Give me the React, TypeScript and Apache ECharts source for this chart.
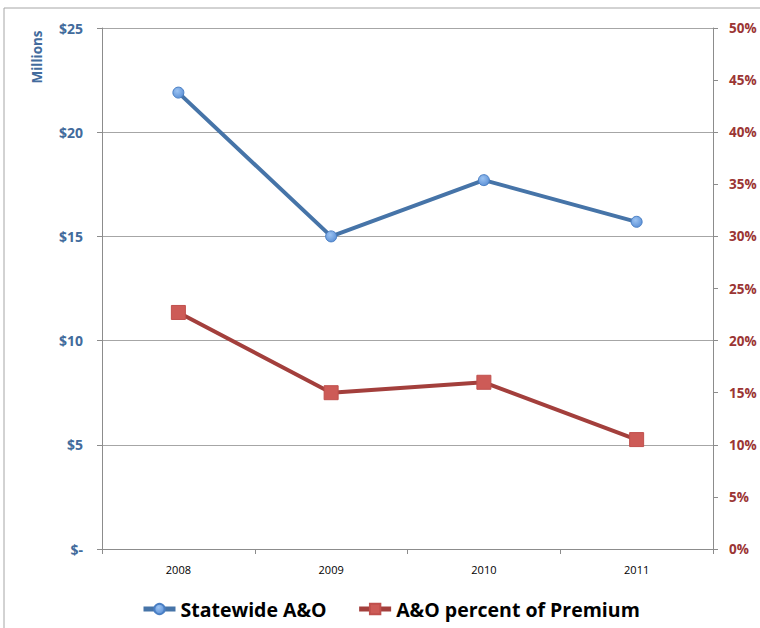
import React, { useEffect, useRef } from "react";
import * as echarts from "echarts";

const categories = ["2008", "2009", "2010", "2011"];
const statewideAO = [21.9, 15.0, 17.7, 15.7];
const percentOfPremium = [22.7, 15.0, 16.0, 10.5];

export default function App() {
  const ref = useRef<HTMLDivElement>(null);
  useEffect(() => {
    document.body.style.margin = "0";
    const chart = echarts.init(ref.current!, null, { renderer: "svg" });
    const font = "'Open Sans', 'Noto Sans', sans-serif";
    chart.setOption({
      animation: false,
      backgroundColor: "#ffffff",
      textStyle: { fontFamily: font },
      grid: { left: 102, right: 47, top: 28, bottom: 79, containLabel: false },
      graphic: [
        {
          type: "rect",
          shape: { x: 4, y: 8, width: 800, height: 700 },
          style: { fill: "none", stroke: "#a6a6a6", lineWidth: 1 },
          silent: true,
        },
        {
          type: "text",
          x: 37,
          y: 57,
          rotation: Math.PI / 2,
          style: {
            text: "Millions",
            fill: "#426b9c",
            font: `bold 13.5px ${font}`,
            textAlign: "center",
            textVerticalAlign: "middle",
          },
        },
      ],
      legend: {
        bottom: 4,
        left: 136,
        itemWidth: 32,
        itemHeight: 13,
        itemGap: 30,
        lineStyle: { width: 5 },
        textStyle: { fontSize: 19.5, fontWeight: "bold", color: "#000", fontFamily: font },
        data: ["Statewide A&O", "A&O percent of Premium"],
      },
      xAxis: {
        type: "category",
        data: categories,
        boundaryGap: true,
        axisLine: { lineStyle: { color: "#8c8c8c" } },
        axisTick: { show: true, length: 5, lineStyle: { color: "#8c8c8c" } },
        axisLabel: { color: "#000", fontSize: 11, margin: 15, fontFamily: font },
      },
      yAxis: [
        {
          type: "value",
          min: 0,
          max: 25,
          interval: 5,
          axisLine: { show: true, lineStyle: { color: "#8c8c8c" } },
          axisTick: { show: true, length: 5, lineStyle: { color: "#8c8c8c" } },
          splitLine: { show: true, lineStyle: { color: "#a6a6a6" } },
          axisLabel: {
            color: "#426b9c",
            fontWeight: "bold",
            fontSize: 14,
            margin: 19,
            fontFamily: font,
            formatter: (v: number) => (v === 0 ? "$-" : "$" + v),
          },
        },
        {
          type: "value",
          min: 0,
          max: 50,
          interval: 5,
          position: "right",
          axisLine: { show: true, lineStyle: { color: "#8c8c8c" } },
          axisTick: { show: true, length: 5, lineStyle: { color: "#8c8c8c" } },
          splitLine: { show: false },
          axisLabel: {
            color: "#9b3534",
            fontWeight: "bold",
            fontSize: 13.5,
            margin: 16,
            fontFamily: font,
            formatter: (v: number) => v + "%",
          },
        },
      ],
      series: [
        {
          name: "Statewide A&O",
          type: "line",
          yAxisIndex: 0,
          data: statewideAO,
          symbol: "circle",
          symbolSize: 11,
          lineStyle: { color: "#4674a8", width: 4 },
          itemStyle: {
            color: new echarts.graphic.RadialGradient(0.4, 0.35, 0.7, [
              { offset: 0, color: "#9cc3f2" },
              { offset: 1, color: "#5b90d6" },
            ]),
            borderColor: "#4a7fc4",
            borderWidth: 1,
          },
          z: 3,
        },
        {
          name: "A&O percent of Premium",
          type: "line",
          yAxisIndex: 1,
          data: percentOfPremium,
          symbol: "rect",
          symbolSize: 14,
          lineStyle: { color: "#a33f3c", width: 4 },
          itemStyle: { color: "#cd5b57", borderColor: "#c0504d", borderWidth: 1 },
          z: 3,
        },
      ],
    });
    return () => chart.dispose();
  }, []);
  return <div ref={ref} style={{ width: 760, height: 628 }} />;
}
